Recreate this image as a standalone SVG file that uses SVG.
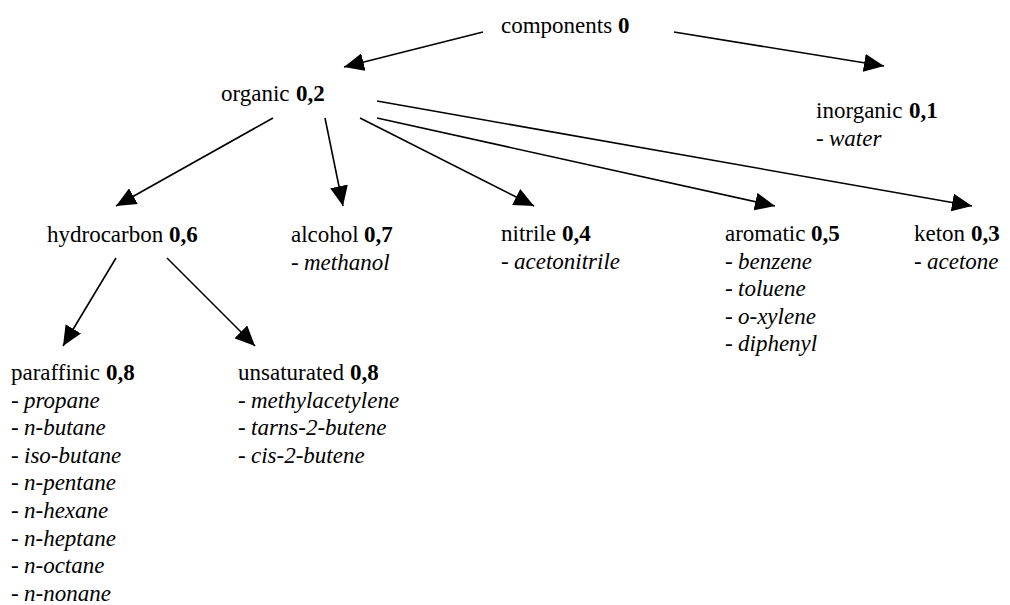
<svg xmlns="http://www.w3.org/2000/svg" width="1010" height="605" viewBox="0 0 1010 605">
  <defs>
    <marker id="arrow" markerUnits="userSpaceOnUse" markerWidth="20" markerHeight="18" refX="20" refY="9" orient="auto">
      <path d="M0,0 L20,9 L0,18 z" fill="#000"/>
    </marker>
  </defs>
  <rect width="1010" height="605" fill="#fff"/>

  <!-- connectors: thin black lines with filled arrowheads -->
  <g id="connectors" stroke="#000" stroke-width="1.6" fill="none" marker-end="url(#arrow)">
    <line x1="483" y1="32" x2="344" y2="67"/>
    <line x1="674" y1="32" x2="884" y2="66"/>
    <line x1="273" y1="118" x2="116" y2="206"/>
    <line x1="325" y1="118" x2="343" y2="206"/>
    <line x1="360" y1="118" x2="534" y2="206"/>
    <line x1="377" y1="118" x2="775" y2="206"/>
    <line x1="377" y1="101" x2="972" y2="206"/>
    <line x1="116" y1="258" x2="63" y2="346"/>
    <line x1="167" y1="258" x2="255" y2="346"/>
  </g>

  <!-- nodes: name, bold weight, italic member list -->
  <g font-size="23" fill="#000">
  <g id="components">
    <text font-family="Liberation Serif" x="501" y="33">components</text>
    <text font-family="Liberation Serif" font-weight="bold" x="618" y="33">0</text>
  </g>
  <g id="organic">
    <text font-family="Liberation Serif" x="221" y="101">organic</text>
    <text font-family="Liberation Serif" font-weight="bold" x="296" y="101">0,2</text>
  </g>
  <g id="inorganic">
    <text font-family="Liberation Serif" x="816" y="118">inorganic</text>
    <text font-family="Liberation Serif" font-weight="bold" x="909" y="118">0,1</text>
    <text font-family="Liberation Serif" x="816" y="146">-</text>
    <text font-family="Liberation Serif" font-style="italic" x="829" y="146">water</text>
  </g>
  <g id="hydrocarbon">
    <text font-family="Liberation Serif" x="47" y="242">hydrocarbon</text>
    <text font-family="Liberation Serif" font-weight="bold" x="169" y="242">0,6</text>
  </g>
  <g id="alcohol">
    <text font-family="Liberation Serif" x="291" y="242">alcohol</text>
    <text font-family="Liberation Serif" font-weight="bold" x="364" y="242">0,7</text>
    <text font-family="Liberation Serif" x="291" y="269.6">-</text>
    <text font-family="Liberation Serif" font-style="italic" x="304" y="269.6">methanol</text>
  </g>
  <g id="nitrile">
    <text font-family="Liberation Serif" x="501" y="241">nitrile</text>
    <text font-family="Liberation Serif" font-weight="bold" x="562" y="241">0,4</text>
    <text font-family="Liberation Serif" x="501" y="268.6">-</text>
    <text font-family="Liberation Serif" font-style="italic" x="514" y="268.6">acetonitrile</text>
  </g>
  <g id="aromatic">
    <text font-family="Liberation Serif" x="725" y="241">aromatic</text>
    <text font-family="Liberation Serif" font-weight="bold" x="811" y="241">0,5</text>
    <text font-family="Liberation Serif" x="725" y="268.6">-</text>
    <text font-family="Liberation Serif" font-style="italic" x="738" y="268.6">benzene</text>
    <text font-family="Liberation Serif" x="725" y="296.2">-</text>
    <text font-family="Liberation Serif" font-style="italic" x="738" y="296.2">toluene</text>
    <text font-family="Liberation Serif" x="725" y="323.8">-</text>
    <text font-family="Liberation Serif" font-style="italic" x="738" y="323.8">o-xylene</text>
    <text font-family="Liberation Serif" x="725" y="351.4">-</text>
    <text font-family="Liberation Serif" font-style="italic" x="738" y="351.4">diphenyl</text>
  </g>
  <g id="keton">
    <text font-family="Liberation Serif" x="914" y="241">keton</text>
    <text font-family="Liberation Serif" font-weight="bold" x="971" y="241">0,3</text>
    <text font-family="Liberation Serif" x="914" y="268.6">-</text>
    <text font-family="Liberation Serif" font-style="italic" x="927" y="268.6">acetone</text>
  </g>
  <g id="paraffinic">
    <text font-family="Liberation Serif" x="11" y="380">paraffinic</text>
    <text font-family="Liberation Serif" font-weight="bold" x="106" y="380">0,8</text>
    <text font-family="Liberation Serif" x="11" y="407.6">-</text>
    <text font-family="Liberation Serif" font-style="italic" x="24" y="407.6">propane</text>
    <text font-family="Liberation Serif" x="11" y="435.2">-</text>
    <text font-family="Liberation Serif" font-style="italic" x="24" y="435.2">n-butane</text>
    <text font-family="Liberation Serif" x="11" y="462.8">-</text>
    <text font-family="Liberation Serif" font-style="italic" x="24" y="462.8">iso-butane</text>
    <text font-family="Liberation Serif" x="11" y="490.4">-</text>
    <text font-family="Liberation Serif" font-style="italic" x="24" y="490.4">n-pentane</text>
    <text font-family="Liberation Serif" x="11" y="518">-</text>
    <text font-family="Liberation Serif" font-style="italic" x="24" y="518">n-hexane</text>
    <text font-family="Liberation Serif" x="11" y="545.6">-</text>
    <text font-family="Liberation Serif" font-style="italic" x="24" y="545.6">n-heptane</text>
    <text font-family="Liberation Serif" x="11" y="573.2">-</text>
    <text font-family="Liberation Serif" font-style="italic" x="24" y="573.2">n-octane</text>
    <text font-family="Liberation Serif" x="11" y="600.8">-</text>
    <text font-family="Liberation Serif" font-style="italic" x="24" y="600.8">n-nonane</text>
  </g>
  <g id="unsaturated">
    <text font-family="Liberation Serif" x="238" y="380">unsaturated</text>
    <text font-family="Liberation Serif" font-weight="bold" x="350" y="380">0,8</text>
    <text font-family="Liberation Serif" x="238" y="407.6">-</text>
    <text font-family="Liberation Serif" font-style="italic" x="251" y="407.6">methylacetylene</text>
    <text font-family="Liberation Serif" x="238" y="435.2">-</text>
    <text font-family="Liberation Serif" font-style="italic" x="251" y="435.2">tarns-2-butene</text>
    <text font-family="Liberation Serif" x="238" y="462.8">-</text>
    <text font-family="Liberation Serif" font-style="italic" x="251" y="462.8">cis-2-butene</text>
  </g>
  </g>
</svg>
